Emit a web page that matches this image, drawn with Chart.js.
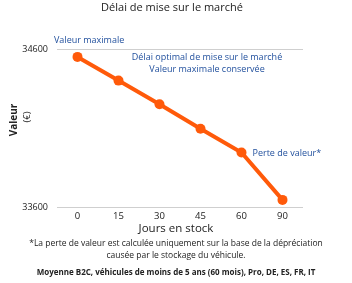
<!DOCTYPE html>
<html>
<head>
<meta charset="utf-8">
<script src="https://cdn.jsdelivr.net/npm/chart.js@4.4.0/dist/chart.umd.min.js"></script>
<style>
  html, body { margin: 0; padding: 0; background: #fff; }
  #wrap { width: 352px; height: 283px; position: relative; }
</style>
</head>
<body>
<div id="wrap"><canvas id="chart"></canvas></div>
<script>
const days = ['0', '15', '30', '45', '60', '90'];
const values = [34550, 34400, 34250, 34095, 33945, 33645];
const yTicks = [33600, 34600];

const FONT = '"Open Sans", sans-serif';
const ORANGE = '#ff5a0a';
const BLUE = '#1f4e9c';
const DARK = '#222';

// texts drawn around the plot
const notes = {
    title: 'Délai de mise sur le marché',
    xTitle: 'Jours en stock',
    yTitle: ['Valeur', '(€)'],
    maxLabel: 'Valeur maximale',
    optimal: ['Délai optimal de mise sur le marché', 'Valeur maximale conservée'],
    loss: 'Perte de valeur*',
    footnote: ['*La perte de valeur est calculée uniquement sur la base de la dépréciation',
               'causée par le stockage du véhicule.'],
    source: 'Moyenne B2C, véhicules de moins de 5 ans (60 mois), Pro, DE, ES, FR, IT'
};

const textPlugin = {
    id: 'texts',
    afterDraw(chart) {
        const ctx = chart.ctx;
        const x = chart.scales.x;
        const y = chart.scales.y;
        const W = chart.width;
        ctx.save();
        ctx.textBaseline = 'middle';

        ctx.fillStyle = DARK;
        ctx.textAlign = 'center';
        ctx.font = `500 11px ${FONT}`;
        ctx.fillText(notes.title, 172, 8);

        ctx.font = `11.5px ${FONT}`;
        ctx.fillText(notes.xTitle, 176, 229);

        ctx.font = `8.5px ${FONT}`;
        ctx.fillText(notes.footnote[0], W / 2, 244);
        ctx.fillText(notes.footnote[1], W / 2, 256);

        ctx.font = `bold 8px ${FONT}`;
        ctx.fillText(notes.source, W / 2, 273);

        // y axis title, rotated
        ctx.save();
        ctx.translate(14, 120);
        ctx.rotate(-Math.PI / 2);
        ctx.font = `bold 10px ${FONT}`;
        ctx.fillText(notes.yTitle[0], 0, 0);
        ctx.restore();
        ctx.save();
        ctx.translate(27, 117);
        ctx.rotate(-Math.PI / 2);
        ctx.font = `9.5px ${FONT}`;
        ctx.fillText(notes.yTitle[1], 0, 0);
        ctx.restore();

        // annotations
        ctx.fillStyle = BLUE;
        ctx.font = `9px ${FONT}`;
        ctx.textAlign = 'left';
        ctx.fillText(notes.maxLabel, 54, y.getPixelForValue(34600) - 9);
        ctx.fillText(notes.loss, x.getPixelForValue(4) + 11, y.getPixelForValue(values[4]) + 1);
        ctx.textAlign = 'center';
        ctx.fillText(notes.optimal[0], 207, 57);
        ctx.fillText(notes.optimal[1], 207, 69);
        ctx.restore();
    }
};

new Chart(document.getElementById('chart'), {
    type: 'line',
    data: {
        labels: days,
        datasets: [{
            data: values,
            borderColor: ORANGE,
            backgroundColor: ORANGE,
            borderWidth: 4,
            pointRadius: 5,
            pointBorderWidth: 0,
            tension: 0,
            fill: false
        }]
    },
    options: {
        responsive: true,
        maintainAspectRatio: false,
        animation: false,
        layout: { padding: { top: 49, right: 49, left: 0, bottom: 0 } },
        plugins: {
            legend: { display: false },
            title: { display: false },
            tooltip: { enabled: false }
        },
        scales: {
            x: {
                offset: true,
                grid: { display: false, drawTicks: false },
                border: { display: false },
                ticks: { color: DARK, font: { family: FONT, size: 9.5 }, padding: 4 },
                afterFit(scale) { scale.height = 76; }
            },
            y: {
                min: 33600,
                max: 34600,
                afterBuildTicks(scale) { scale.ticks = yTicks.map(v => ({ value: v })); },
                afterFit(scale) { scale.width = 57; },
                grid: { color: '#cfcfcf', drawTicks: false },
                border: { display: false },
                ticks: {
                    color: DARK,
                    font: { family: FONT, size: 9 },
                    padding: 9,
                    callback: v => String(v)
                }
            }
        }
    },
    plugins: [textPlugin]
});
</script>
</body>
</html>
